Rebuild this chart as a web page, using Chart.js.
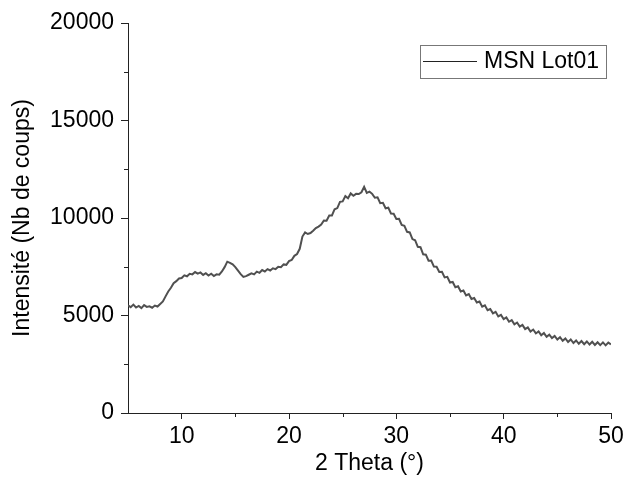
<!DOCTYPE html>
<html>
<head>
<meta charset="utf-8">
<script src="https://cdn.jsdelivr.net/npm/chart.js@4.4.0/dist/chart.umd.min.js"></script>
<style>
  html, body { margin: 0; padding: 0; background: #fff; }
  #wrap { width: 623px; height: 484px; }
</style>
</head>
<body>
<div id="wrap"><canvas id="xrd"></canvas></div>
<script>
// XRD pattern (step 0.25 deg from 5 to 50)
const seriesLabel = 'MSN Lot01';
const thetaStart = 5;
const thetaStep = 0.25;
const intensity = [
  5520, 5430, 5560, 5410, 5490, 5380, 5530, 5440,
  5470, 5400, 5510, 5460, 5590, 5720, 5980, 6230,
  6420, 6660, 6760, 6900, 6920, 7060, 7010, 7140,
  7110, 7230, 7150, 7210, 7080, 7170, 7050, 7140,
  7020, 7110, 7090, 7260, 7480, 7760, 7700, 7620,
  7480, 7300, 7120, 6980, 7020, 7090, 7160, 7110,
  7250, 7190, 7330, 7260, 7380, 7310, 7420, 7380,
  7500, 7480, 7620, 7600, 7790, 7850, 8060, 8150,
  8420, 9050, 9260, 9180, 9230, 9350, 9480, 9560,
  9660, 9870, 9860, 10130, 10130, 10450, 10510, 10830,
  10850, 11120, 11010, 11260, 11140, 11240, 11230, 11320,
  11600, 11290, 11350, 11240, 11040, 11060, 10760, 10780,
  10500, 10530, 10230, 10220, 9950, 9960, 9640, 9600,
  9290, 9260, 8920, 8860, 8520, 8500, 8140, 8120,
  7810, 7820, 7510, 7500, 7230, 7240, 6950, 6980,
  6690, 6720, 6450, 6500, 6230, 6280, 6030, 6100,
  5850, 5900, 5670, 5720, 5450, 5520, 5270, 5330,
  5110, 5190, 4950, 5030, 4810, 4900, 4680, 4760,
  4550, 4640, 4430, 4520, 4300, 4390, 4180, 4280,
  4080, 4180, 3990, 4100, 3910, 4020, 3840, 3950,
  3770, 3890, 3700, 3820, 3640, 3770, 3590, 3720,
  3550, 3690, 3530, 3670, 3510, 3650, 3490, 3630,
  3480, 3620, 3470, 3610, 3520
];
const xTicks = [10, 20, 30, 40, 50];
const xMinorTicks = [15, 25, 35, 45];
const yMinorTicks = [2500, 7500, 12500, 17500];

const points = intensity.map((v, i) => ({ x: thetaStart + i * thetaStep, y: v }));

const FONT = 'Arial, "Liberation Sans", sans-serif';
const lineColor = '#505050';

// minor ticks + a little boxed legend, like the Origin plot
const extras = {
  id: 'extras',
  afterDraw(chart) {
    const ctx = chart.ctx;
    const xs = chart.scales.x, ys = chart.scales.y;
    const area = chart.chartArea;
    ctx.save();
    ctx.strokeStyle = '#222';
    ctx.lineWidth = 1;
    ctx.beginPath();
    yMinorTicks.forEach(v => {
      const py = Math.round(ys.getPixelForValue(v)) + 0.5;
      ctx.moveTo(area.left - 4, py);
      ctx.lineTo(area.left, py);
    });
    xMinorTicks.forEach(v => {
      const px = Math.round(xs.getPixelForValue(v)) + 0.5;
      ctx.moveTo(px, area.bottom);
      ctx.lineTo(px, area.bottom + 4);
    });
    ctx.stroke();

    // legend
    const bx = 420.5, by = 45.5, bw = 186, bh = 33;
    ctx.strokeStyle = '#777';
    ctx.strokeRect(bx, by, bw, bh);
    ctx.strokeStyle = '#222';
    ctx.lineWidth = 1.2;
    ctx.beginPath();
    ctx.moveTo(423, 61.5);
    ctx.lineTo(477, 61.5);
    ctx.stroke();
    ctx.fillStyle = '#000';
    ctx.font = '23px ' + FONT;
    ctx.textBaseline = 'middle';
    ctx.textAlign = 'left';
    ctx.fillText(chart.data.datasets[0].label, 484, 62);
    ctx.restore();
  }
};

new Chart(document.getElementById('xrd'), {
  type: 'line',
  data: {
    datasets: [{
      label: seriesLabel,
      data: points,
      borderColor: lineColor,
      borderWidth: 2,
      pointRadius: 0,
      tension: 0,
      fill: false
    }]
  },
  options: {
    responsive: true,
    maintainAspectRatio: false,
    animation: false,
    events: [],
    layout: { padding: { top: 23, right: 12, bottom: 0, left: 0 } },
    plugins: {
      legend: { display: false },
      tooltip: { enabled: false }
    },
    scales: {
      x: {
        type: 'linear',
        min: 5,
        max: 50,
        afterBuildTicks: s => { s.ticks = xTicks.map(v => ({ value: v })); },
        afterFit: s => { s.height = 71; s.paddingLeft = 0; s.paddingRight = 0; },
        border: { display: true, color: '#222', width: 1 },
        grid: { display: true, drawOnChartArea: false, drawTicks: true, tickLength: 6, color: '#222' },
        ticks: {
          color: '#000',
          font: { family: FONT, size: 23 },
          padding: 4,
          maxRotation: 0,
          callback: v => String(v)
        },
        title: {
          display: true,
          text: '2 Theta (°)',
          color: '#000',
          font: { family: FONT, size: 23 },
          padding: { top: 0, bottom: 7 }
        }
      },
      y: {
        min: 0,
        max: 20000,
        afterFit: s => { s.width = 128; s.paddingTop = 0; s.paddingBottom = 0; },
        border: { display: true, color: '#222', width: 1 },
        grid: { display: true, drawOnChartArea: false, drawTicks: true, tickLength: 7, color: '#222' },
        ticks: {
          stepSize: 5000,
          color: '#000',
          font: { family: FONT, size: 23 },
          padding: 7,
          callback: v => String(v)
        },
        title: {
          display: true,
          text: 'Intensité (Nb de coups)',
          color: '#000',
          font: { family: FONT, size: 23 },
          padding: { top: 9, bottom: 0 }
        }
      }
    }
  },
  plugins: [extras]
});
</script>
</body>
</html>
